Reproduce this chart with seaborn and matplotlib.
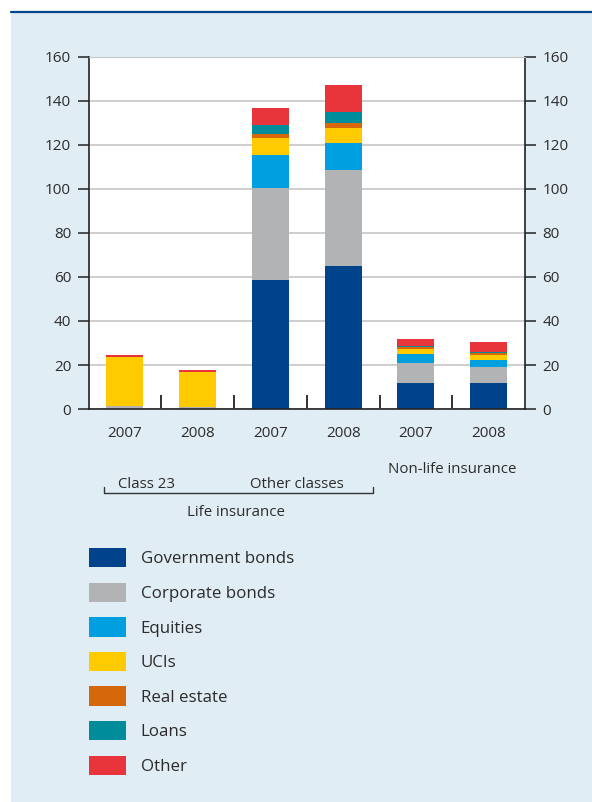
#!/usr/bin/env python3

import matplotlib

matplotlib.use("Agg")
import matplotlib.pylab as plt
import numpy as np
import seaborn as sns
from matplotlib.lines import Line2D
from matplotlib.patches import Patch, Rectangle

sns.set_style("white")
plt.rcParams["font.family"] = ["Open Sans", "DejaVu Sans"]

# Investments of insurers, per category (billion EUR)
categories = [
    "Class 23 2007",
    "Class 23 2008",
    "Other classes 2007",
    "Other classes 2008",
    "Non-life 2007",
    "Non-life 2008",
]
year_labels = ["2007", "2008", "2007", "2008", "2007", "2008"]

government = [0.2, 0.2, 58.6, 65.0, 11.8, 11.8]
corporate = [1.2, 0.7, 42.0, 43.8, 9.1, 7.3]
equities = [0.0, 0.0, 14.9, 12.1, 4.1, 3.2]
ucis = [22.2, 15.9, 7.7, 6.8, 2.3, 2.2]
real_estate = [0.0, 0.0, 1.9, 2.3, 0.8, 1.0]
loans = [0.0, 0.0, 4.0, 5.0, 0.6, 0.5]
other = [0.9, 0.9, 7.7, 12.3, 3.0, 4.5]

series_names = [
    "Government bonds",
    "Corporate bonds",
    "Equities",
    "UCIs",
    "Real estate",
    "Loans",
    "Other",
]
series_values = [government, corporate, equities, ucis, real_estate, loans, other]
colors = ["#00438a", "#b2b3b5", "#009fe0", "#ffcb00", "#d4680b", "#008c9b", "#e8353c"]

bg = "#e1edf4"
text_color = "#2b2b2b"
grid_color = "#c6c6c6"

W, H = 592, 802


def fx(px):
    return px / W


def fy(py):
    return 1 - py / H


fig = plt.figure(figsize=(5.92, 8.02), dpi=100)
fig.patch.set_facecolor("white")
# light blue panel with the dark blue rule on top
fig.add_artist(
    Rectangle((fx(11), 0), 1 - fx(11), fy(13), transform=fig.transFigure,
              facecolor=bg, edgecolor="none", zorder=-10)
)
fig.add_artist(
    Line2D([fx(11), 1], [fy(12), fy(12)], transform=fig.transFigure,
           color="#00468c", linewidth=1.6)
)

ax = fig.add_axes([fx(88.5), fy(409), fx(525) - fx(88.5), fy(57) - fy(409)])
ax.set_facecolor("white")

# Stacked bars: draw cumulative totals from the top layer down
cum = np.cumsum(np.array(series_values), axis=0)
for k in range(len(series_names) - 1, -1, -1):
    sns.barplot(
        x=categories,
        y=cum[k],
        order=categories,
        color=colors[k],
        saturation=1,
        width=0.51,
        linewidth=0,
        errorbar=None,
        ax=ax,
    )

ax.set_xlim(-0.5, len(categories) - 0.5)
ax.set_ylim(0, 160)
ax.set_yticks(range(0, 161, 20))
ax.set_xlabel("")
ax.set_ylabel("")
ax.set_axisbelow(True)
ax.yaxis.grid(True, color=grid_color, linewidth=1.2)

ax.set_xticks(range(len(categories)))
ax.set_xticklabels(year_labels)
ax.set_xticks(np.arange(0.5, len(categories) - 1, 1.0), minor=True)
ax.tick_params(axis="x", which="major", length=0, pad=12.5, labelsize=11,
               colors=text_color)
ax.tick_params(axis="x", which="minor", direction="in", length=10, width=1.3,
               color="#222222", bottom=True)
ax.tick_params(axis="y", which="major", left=True, right=True, labelleft=True,
               labelright=True, direction="out", length=8, width=1.1,
               color="#222222", pad=4.5, labelsize=11, labelcolor=text_color)

for side in ["left", "right", "bottom"]:
    ax.spines[side].set_color("#222222")
    ax.spines[side].set_linewidth(1.2)
ax.spines["top"].set_color(grid_color)

# Group labels below the axis
fig.text(fx(452), fy(469), "Non-life insurance", ha="center", va="center",
         fontsize=10.8, color=text_color)
fig.text(fx(147), fy(485), "Class 23", ha="center", va="center",
         fontsize=10.8, color=text_color)
fig.text(fx(297), fy(485), "Other classes", ha="center", va="center",
         fontsize=10.8, color=text_color)
fig.text(fx(236), fy(512), "Life insurance", ha="center", va="center",
         fontsize=10.8, color=text_color)
fig.add_artist(
    Line2D([fx(104), fx(104), fx(373), fx(373)],
           [fy(487), fy(493), fy(493), fy(487)],
           transform=fig.transFigure, color="#333333", linewidth=1.0)
)

# Legend below the chart
handles = [Patch(facecolor=c, edgecolor="none") for c in colors]
fig.legend(
    handles=handles,
    labels=series_names,
    loc="upper left",
    bbox_to_anchor=(fx(89), fy(548)),
    frameon=False,
    fontsize=12.2,
    labelcolor=text_color,
    handlelength=2.2,
    handleheight=1.38,
    handletextpad=0.84,
    labelspacing=0.9,
    borderpad=0,
    borderaxespad=0,
)

plt.savefig("out.png", dpi=100, facecolor=fig.get_facecolor())
